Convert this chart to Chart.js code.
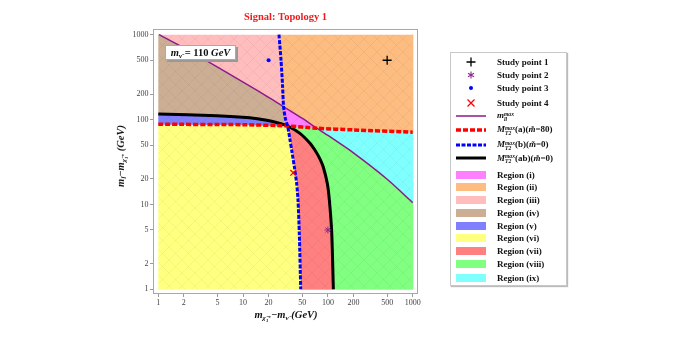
<!DOCTYPE html>
<html>
<head>
<meta charset="utf-8">
<script src="https://cdn.jsdelivr.net/npm/chart.js@4.4.1/dist/chart.umd.min.js"></script>
<style>
  body { margin: 0; background: #fff; }
  #wrap { position: relative; width: 677px; height: 338px; font-family: "Liberation Serif", "Times New Roman", serif; color: #111; }
  #chart { position: absolute; left: 0; top: 0; }
  .lbl { position: absolute; font-weight: bold; font-style: italic; font-size: 10.5px; white-space: nowrap; }
  .lbl sub, .row sub { font-size: 0.68em; vertical-align: -0.35em; line-height: 0; }
  .lbl sup { font-size: 0.68em; vertical-align: 0.4em; line-height: 0; }
  #xlab { left: 286px; top: 309px; transform: translateX(-50%); }
  #ylab { left: 121px; top: 156px; transform: translate(-50%, -50%) rotate(-90deg); }
  #note { left: 165px; top: 45px; width: 71px; height: 15px; box-sizing: border-box; background: #fff;
          border: 1px solid #aaa; box-shadow: 2px 2px 0 #999; line-height: 13px; text-align: center; font-style: normal; }
  #legend { position: absolute; left: 450px; top: 52px; width: 117px; height: 234px; box-sizing: border-box;
            border: 1px solid #c8c8c8; box-shadow: 1px 1px 1px #bbb; background: #fff; }
  .row { position: absolute; left: 0; height: 12px; display: flex; align-items: center; font-weight: bold; font-size: 9px; white-space: nowrap; }
  .row svg { margin-left: 5px; margin-right: 11px; flex: none; }
  .ss { display: inline-block; vertical-align: -0.45em; font-size: 0.62em; line-height: 0.9; font-style: italic; }
  .ss span { display: block; }
</style>
</head>
<body>
<div id="wrap">
  <canvas id="chart" width="677" height="338"></canvas>
  <div class="lbl" id="note"><i>m</i><sub>ν̃</sub> = 110 <i>GeV</i></div>
  <div class="lbl" id="xlab">m<sub>χ̃<sub>1</sub><sup>±</sup></sub>−m<sub>ν̃</sub> (GeV)</div>
  <div class="lbl" id="ylab">m<sub>l̃</sub>−m<sub>χ̃<sub>1</sub><sup>±</sup></sub> (GeV)</div>
  <div id="legend"></div>
</div>
<script>
// curves, [x, y] in GeV (both axes log)
const mllMax = [[1.02,1000],[2,700],[5,415],[10,276],[20,183],[30,142],[50,103],[74,79],[100,65],[200,40.5],[500,19.8],[1000,10.5]];
const mt2a   = [[1,88],[10,87],[33.5,84],[74,79],[200,75.5],[1000,71]];
const mt2b   = [[26.5,1000],[28,500],[29.2,250],[30,142],[31.7,100],[33.5,84],[35.5,60],[37.4,43.7],[40.2,27.8],[42.8,17.7],[44.4,11.3],[46,4.6],[47.8,1]];
const mt2ab  = [[1,116],[4.9,111],[12,105],[19,98],[27.2,90],[33.5,84],[46.8,68.8],[61.5,52.5],[72,42],[81,34],[88,27.8],[98.4,17.7],[104,11.3],[111,4.6],[116,1]];

// study points
const studyNames = ['Study point 1', 'Study point 2', 'Study point 3', 'Study point 4'];
const studyX = [500, 100, 20, 39];
const studyY = [500, 5, 500, 23.6];

const tickValues = [1, 2, 5, 10, 20, 50, 100, 200, 500, 1000];

const regionNames = ['Region (i)', 'Region (ii)', 'Region (iii)', 'Region (iv)', 'Region (v)',
                     'Region (vi)', 'Region (vii)', 'Region (viii)', 'Region (ix)'];
const regionColors = ['#ff80ff', '#fdbc80', '#ffbdbd', '#cbae94', '#8080ff', '#ffff80', '#ff8080', '#80ff80', '#80ffff'];

// piece of a curve between two point indexes (reversed if needed)
const seg = (c, a, b) => a <= b ? c.slice(a, b + 1) : c.slice(b, a + 1).reverse();
const last = c => c.length - 1;

// regions are bounded by the curves above
const regionShapes = [
  [...seg(mllMax, 5, 7), ...seg(mt2a, 3, 2), ...seg(mt2b, 5, 3)],
  [[1000, 1000], ...seg(mt2a, 5, 3), ...seg(mllMax, 7, 5), ...seg(mt2b, 3, 0)],
  [...seg(mllMax, 0, 5), ...seg(mt2b, 3, 0)],
  [[1, 1000], ...seg(mllMax, 0, 5), ...seg(mt2b, 3, 5), ...seg(mt2ab, 5, 0)],
  [...seg(mt2ab, 0, 5), ...seg(mt2a, 2, 0)],
  [...seg(mt2a, 0, 2), ...seg(mt2b, 5, last(mt2b)), [1, 1]],
  [...seg(mt2ab, 5, last(mt2ab)), ...seg(mt2b, last(mt2b), 5)],
  [...seg(mt2a, 2, 3), ...seg(mllMax, 7, last(mllMax)), [1000, 1], ...seg(mt2ab, last(mt2ab), 5)],
  [...seg(mt2a, 3, last(mt2a)), ...seg(mllMax, last(mllMax), 7)]
];

const toXY = pts => pts.map(([x, y]) => ({ x, y }));

// faint cross-hatching like the original shading
function hatch(color) {
  const c = document.createElement('canvas');
  c.width = 13; c.height = 13;
  const g = c.getContext('2d');
  g.fillStyle = color;
  g.fillRect(0, 0, 13, 13);
  g.strokeStyle = 'rgba(0,0,0,0.07)';
  g.lineWidth = 0.6;
  g.beginPath();
  g.moveTo(0, 0); g.lineTo(13, 13);
  g.moveTo(13, 0); g.lineTo(0, 13);
  g.stroke();
  return g.createPattern(c, 'repeat');
}

const studyStyles = [
  { pointStyle: 'cross', color: '#000000', radius: 4.5, width: 1.3 },
  { pointStyle: 'star', color: '#8b2a8b', radius: 3.5, width: 1 },
  { pointStyle: 'circle', color: '#0000ff', radius: 2, width: 0 },
  { pointStyle: 'crossRot', color: '#ff0000', radius: 4, width: 1.3 }
];

const curveDefs = [
  { data: mllMax, color: '#8b1a8b', width: 1.5, dash: [], order: 4,
    label: '<i>m</i><span class="ss"><span>max</span><span>ll</span></span>' },
  { data: mt2a, color: '#ff0000', width: 3.5, dash: [5, 2], order: 2,
    label: '<i>M</i><span class="ss"><span>max</span><span>T2</span></span>(a)(<i>m̃</i>=80)' },
  { data: mt2b, color: '#0000ff', width: 3, dash: [4, 1.5], order: 1,
    label: '<i>M</i><span class="ss"><span>max</span><span>T2</span></span>(b)(<i>m̃</i>=0)' },
  { data: mt2ab, color: '#000000', width: 3, dash: [], order: 3,
    label: '<i>M</i><span class="ss"><span>max</span><span>T2</span></span>(ab)(<i>m̃</i>=0)' }
];

const datasets = [];
studyNames.forEach((name, i) => {
  const s = studyStyles[i];
  datasets.push({
    label: name, order: 0, showLine: false,
    data: [{ x: studyX[i], y: studyY[i] }],
    pointStyle: s.pointStyle, pointRadius: s.radius,
    pointBorderColor: s.color, pointBackgroundColor: s.color, pointBorderWidth: s.width
  });
});
curveDefs.forEach(c => {
  datasets.push({
    order: c.order, data: toXY(c.data), borderColor: c.color, borderWidth: c.width,
    borderDash: c.dash, pointRadius: 0, fill: false, tension: 0.25
  });
});
regionShapes.forEach((shape, i) => {
  datasets.push({
    label: regionNames[i], order: 10, data: toXY(shape),
    backgroundColor: hatch(regionColors[i]), borderColor: regionColors[i], borderWidth: 0.8,
    pointRadius: 0, fill: 'shape', tension: 0
  });
});

// grey frame round the plot
const framePlugin = {
  id: 'frame',
  afterDraw(chart) {
    const { ctx, chartArea: a } = chart;
    ctx.save();
    ctx.strokeStyle = '#a8a8a8';
    ctx.lineWidth = 1;
    ctx.strokeRect(a.left + 0.5, a.top + 0.5, a.right - a.left - 1, a.bottom - a.top - 1);
    ctx.restore();
  }
};

const tickFont = { family: 'Liberation Serif', size: 8 };

new Chart(document.getElementById('chart'), {
  type: 'line',
  data: { datasets },
  options: {
    responsive: false,
    animation: false,
    layout: { padding: { left: 0, right: 259, top: 0, bottom: 0 } },
    plugins: {
      legend: { display: false },
      tooltip: { enabled: false },
      title: {
        display: true, text: 'Signal: Topology 1', color: '#ee1c1c', fullSize: false,
        font: { family: 'Liberation Serif', size: 10.5, weight: 'bold' },
        padding: { top: 11, bottom: 5.4 }
      }
    },
    scales: {
      x: {
        type: 'logarithmic', min: 0.866, max: 1155,
        afterFit: s => { s.height = 44; },
        afterBuildTicks: s => { s.ticks = tickValues.map(v => ({ value: v })); },
        ticks: { callback: v => String(v), font: tickFont, color: '#444', autoSkip: false, maxRotation: 0, padding: 1 },
        grid: { drawOnChartArea: false, tickLength: 3, color: '#999' },
        border: { display: false }
      },
      y: {
        type: 'logarithmic', min: 0.88, max: 1167,
        afterFit: s => { s.width = 153; },
        afterBuildTicks: s => { s.ticks = tickValues.map(v => ({ value: v })); },
        ticks: { callback: v => String(v), font: tickFont, color: '#444', autoSkip: false, padding: 1.5 },
        grid: { drawOnChartArea: false, tickLength: 3, color: '#999' },
        border: { display: false }
      }
    }
  },
  plugins: [framePlugin]
});

// legend (html so that sub/superscripts stay real text)
function symbolSvg(kind, color, width, dash) {
  let inner = '';
  if (kind === 'cross') inner = `<path d="M15 0.5V9.5M10.5 5H19.5" stroke="${color}" stroke-width="1.3"/>`;
  else if (kind === 'star') inner = `<path d="M15 1.6V8.4M12 3.2L18 6.8M12 6.8L18 3.2" stroke="${color}" stroke-width="1.1"/>`;
  else if (kind === 'circle') inner = `<circle cx="15" cy="5" r="2" fill="${color}"/>`;
  else if (kind === 'crossRot') inner = `<path d="M11.5 1.5L18.5 8.5M18.5 1.5L11.5 8.5" stroke="${color}" stroke-width="1.3"/>`;
  else if (kind === 'line') inner = `<line x1="0" y1="5" x2="30" y2="5" stroke="${color}" stroke-width="${width}" stroke-dasharray="${dash.join(' ')}"/>`;
  else if (kind === 'box') inner = `<rect x="0" y="1" width="30" height="8" fill="${color}"/>`;
  return `<svg width="30" height="10" viewBox="0 0 30 10">${inner}</svg>`;
}

const legendItems = [];
studyNames.forEach((n, i) => legendItems.push({ svg: symbolSvg(studyStyles[i].pointStyle, studyStyles[i].color), html: n }));
curveDefs.forEach(c => legendItems.push({ svg: symbolSvg('line', c.color, c.width, c.dash), html: c.label }));
regionNames.forEach((n, i) => legendItems.push({ svg: symbolSvg('box', regionColors[i]), html: n }));

const rowCenters = [61.7, 75, 88.3, 102.7, 116, 130, 145, 158.3, 174.7, 187, 200, 212.7, 225.7, 238.3, 251, 264.3, 277.7];
const legend = document.getElementById('legend');
legendItems.forEach((it, i) => {
  const row = document.createElement('div');
  row.className = 'row';
  row.style.top = (rowCenters[i] - 52 - 1 - 6) + 'px';
  row.innerHTML = it.svg + '<span>' + it.html + '</span>';
  legend.appendChild(row);
});
</script>
</body>
</html>
